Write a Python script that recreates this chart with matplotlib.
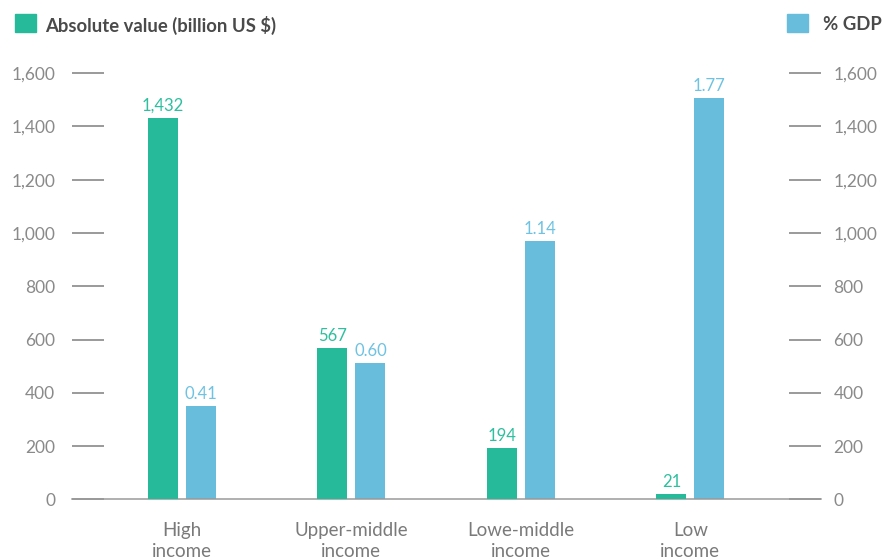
import matplotlib
matplotlib.use("Agg")
import matplotlib.pyplot as plt
import numpy as np

plt.rcParams['font.family'] = ['Lato', 'DejaVu Sans']

categories = ["High\nincome", "Upper-middle\nincome", "Lowe-middle\nincome", "Low\nincome"]
absolute_value = [1432, 567, 194, 21]          # billion US $
pct_gdp = [0.41, 0.60, 1.14, 1.77]             # % GDP
abs_labels = ["1,432", "567", "194", "21"]
pct_labels = ["0.41", "0.60", "1.14", "1.77"]
left_ticks = [0, 200, 400, 600, 800, 1000, 1200, 1400, 1600]

GREEN = "#26b99a"
BLUE = "#68bcdc"
GREEN_TXT = "#2ebf9e"
BLUE_TXT = "#6ec2e2"
TICK_GRAY = "#9a9a9a"
LABEL_GRAY = "#7a7a7a"

fig = plt.figure(figsize=(8.82, 5.58), dpi=100)
ax = fig.add_axes([0.0816, 0.105, 0.849, 0.764])
ax2 = ax.twinx()

x = np.arange(len(categories))
w = 0.177
off = 0.112

b1 = ax.bar(x - off, absolute_value, width=w, color=GREEN, zorder=3)
b2 = ax2.bar(x + off, pct_gdp, width=w, color=BLUE, zorder=3)

ax.set_ylim(0, 1600)
ymax2 = 1.88
ax2.set_ylim(0, ymax2)
ax.set_xlim(-0.649, 3.77)

for rect, lab in zip(b1, abs_labels):
    ax.annotate(lab, (rect.get_x() + rect.get_width() / 2, rect.get_height()),
                xytext=(0, 3), textcoords="offset points", ha="center", va="bottom",
                color=GREEN_TXT, fontsize=12)
for rect, lab in zip(b2, pct_labels):
    ax2.annotate(lab, (rect.get_x() + rect.get_width() / 2, rect.get_height()),
                 xytext=(0, 3), textcoords="offset points", ha="center", va="bottom",
                 color=BLUE_TXT, fontsize=12)

ax.set_yticks(left_ticks)
ax.set_yticklabels([f"{v:,}" for v in left_ticks])
ax.tick_params(axis='y', direction='in', length=23, width=1.4, color=TICK_GRAY,
               pad=12, labelsize=12.5, labelcolor="#8a8a8a")
ax2.set_yticks([v / 1600 * ymax2 for v in left_ticks])
ax2.set_yticklabels([f"{v:,}" for v in left_ticks])
ax2.tick_params(axis='y', direction='in', length=23, width=1.4, color=TICK_GRAY,
                pad=9, labelsize=12.5, labelcolor="#8a8a8a")

ax.set_xticks(x)
ax.set_xticklabels(categories, fontsize=13.5, color=LABEL_GRAY, linespacing=1.3)
ax.tick_params(axis='x', length=0, pad=16)

for a in (ax, ax2):
    for s in ('top', 'left', 'right'):
        a.spines[s].set_visible(False)
    a.spines['bottom'].set_color(TICK_GRAY)
    a.spines['bottom'].set_linewidth(1.1)
ax2.spines['bottom'].set_visible(False)
ax.set_zorder(2)
ax2.set_zorder(1)
ax.patch.set_visible(False)

# legend-style headers
fig.patches.append(plt.Rectangle((15 / 882, 1 - 32 / 558), 21 / 882, 18 / 558,
                                 transform=fig.transFigure, color=GREEN))
fig.text(45 / 882, 1 - 25 / 558, "Absolute value (billion US $)", fontsize=13.3,
         fontweight='bold', color="#4a4a4a", va='center', ha='left')
fig.patches.append(plt.Rectangle((787 / 882, 1 - 32 / 558), 21 / 882, 18 / 558,
                                 transform=fig.transFigure, color=BLUE))
fig.text(823 / 882, 1 - 25 / 558, "% GDP", fontsize=13.3,
         fontweight='bold', color="#4a4a4a", va='center', ha='left')

fig.savefig("out.png", dpi=100)
